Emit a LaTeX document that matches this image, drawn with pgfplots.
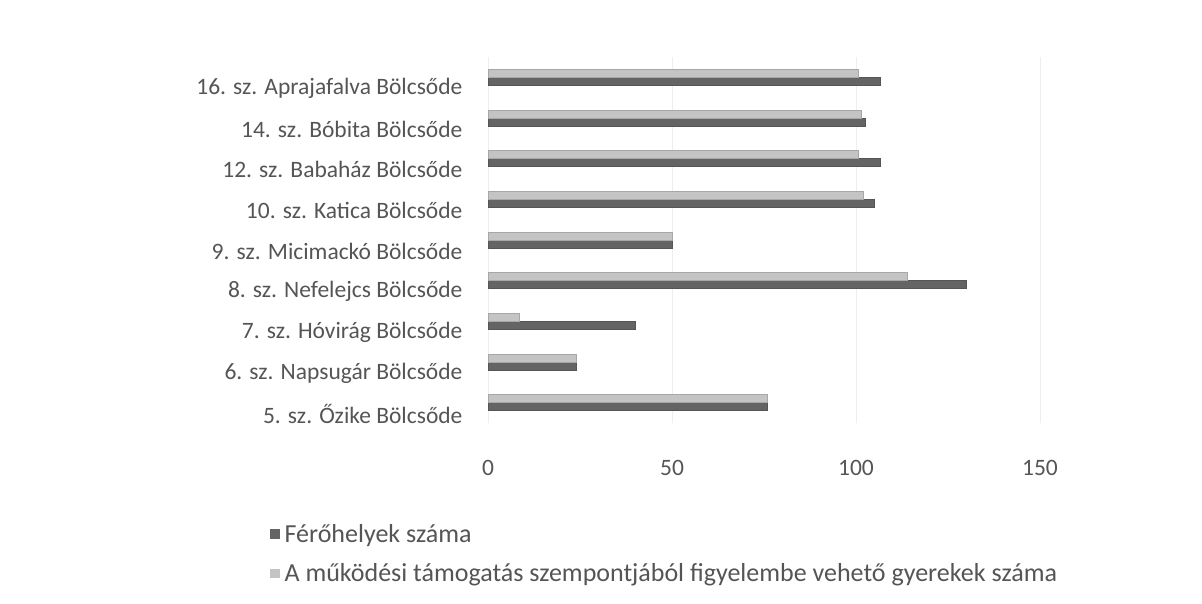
\documentclass[border=0pt]{standalone}
\usepackage{fontspec}
\setmainfont{Carlito}
\usepackage{pgfplots}
\pgfplotsset{compat=1.18}
\definecolor{darkbar}{HTML}{646464}
\definecolor{lightbar}{HTML}{C4C4C4}
\definecolor{txt}{HTML}{555555}
\definecolor{gridc}{HTML}{EEEEEE}
\begin{document}
\begin{tikzpicture}
\useasboundingbox[fill=white] (0pt,0pt) rectangle (1202pt,603pt);
\begin{axis}[
  at={(488pt,180pt)}, anchor=south west,
  scale only axis, width=552pt, height=366pt,
  xmin=0, xmax=150, ymin=-0.5, ymax=8.5,
  xtick={0,50,100,150},
  ytick={0,1,2,3,4,5,6,7,8},
  yticklabels={5. sz. Őzike Bölcsőde,6. sz. Napsugár Bölcsőde,7. sz. Hóvirág Bölcsőde,8. sz. Nefelejcs Bölcsőde,9. sz. Micimackó Bölcsőde,10. sz. Katica Bölcsőde,12. sz. Babaház Bölcsőde,14. sz. Bóbita Bölcsőde,16. sz. Aprajafalva Bölcsőde},
  axis line style={draw=none},
  major tick style={draw=none},
  xmajorgrids, grid style={gridc, line width=1pt},
  /pgf/number format/assume math mode=true,
  tick label style={font=\fontsize{23.5}{28}\selectfont, text=txt},
  yticklabel style={yshift=-11pt, xshift=-22pt},
  xticklabel style={yshift=-34pt},
  legend style={at={(-0.4,-0.265)}, anchor=north west, draw=none, fill=none,
    font=\fontsize{26}{31}\selectfont, text=txt, row sep=16pt},
  legend cell align=left,
  legend image code/.code={\fill[#1, draw=none] (0pt,-4.7pt) rectangle (9.5pt,4.7pt); \path (12pt,0pt);},
]
\addplot[xbar, bar width=8pt, bar shift=-4pt, fill=darkbar, draw=darkbar!85!black, line width=0.4pt]
  coordinates {(76,0) (24,1) (40,2) (130,3) (50,4) (105,5) (106.5,6) (102.5,7) (106.5,8)};
\addlegendentry{Férőhelyek száma}
\addplot[xbar, bar width=8pt, bar shift=4pt, fill=lightbar, draw=lightbar!85!black, line width=0.4pt]
  coordinates {(76,0) (24,1) (8.5,2) (114,3) (50,4) (102,5) (100.5,6) (101.5,7) (100.5,8)};
\addlegendentry{A működési támogatás szempontjából figyelembe vehető gyerekek száma}
\end{axis}
\end{tikzpicture}
\end{document}
